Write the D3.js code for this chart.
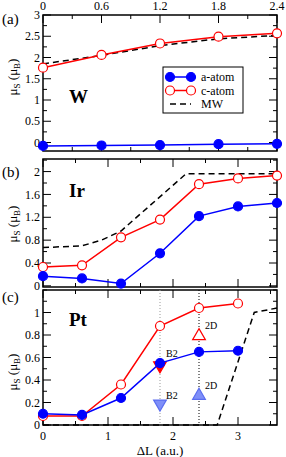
<!DOCTYPE html>
<html>
<head>
<meta charset="utf-8">
<script src="https://cdn.jsdelivr.net/npm/d3@7"></script>
<style>
  body { margin: 0; background: #fff; }
</style>
</head>
<body>
<div id="chart"></div>
<script>
// panel (a) W, top axis
const xA = [0, 0.6, 1.2, 1.8, 2.4];
const wAatom = [-0.08, -0.07, -0.06, -0.04, -0.03];
const wCatom = [1.76, 2.06, 2.33, 2.49, 2.57];
const wMW = [1.85, 2.05, 2.28, 2.44, 2.52];

// panel (b) Ir
const xB = [0, 0.6, 1.2, 1.8, 2.4, 3.0, 3.6];
const irAatom = [0.17, 0.13, 0.04, 0.57, 1.22, 1.39, 1.45];
const irCatom = [0.33, 0.36, 0.85, 1.16, 1.78, 1.88, 1.93];
const irMWx = [0, 0.6, 0.9, 1.2, 2.2, 3.6];
const irMW = [0.67, 0.70, 0.80, 0.96, 1.96, 1.96];

// panel (c) Pt
const xC = [0, 0.6, 1.2, 1.8, 2.4, 3.0];
const ptAatom = [0.10, 0.09, 0.24, 0.55, 0.65, 0.66];
const ptCatom = [0.08, 0.08, 0.36, 0.88, 1.04, 1.08];
const ptMWx = [0, 2.68, 3.25, 3.6];
const ptMW = [0, 0, 1.0, 1.04];
// extra structures (B2, 2D)
const extraX = [1.8, 1.8, 2.4, 2.4];
const extraY = [0.52, 0.18, 0.80, 0.27];
const extraLabel = ["B2", "B2", "2D", "2D"];
const extraKind = ["redDown", "blueDown", "redUp", "blueUp"];
const guideX = [1.8, 2.4];

// ticks
const topTicks = [0, 0.6, 1.2, 1.8, 2.4];
const bottomTicks = [0, 1, 2, 3];
const yTicksA = [0, 0.5, 1, 1.5, 2, 2.5, 3];
const yTicksB = [0, 0.4, 0.8, 1.2, 1.6, 2];
const yTicksC = [0, 0.2, 0.4, 0.6, 0.8, 1];

const width = 286, height = 457;
const left = 43, right = 277;
const blue = "#0000ff", red = "#ff0000";
const serif = "'Liberation Serif', 'Times New Roman', Times, 'DejaVu Serif', serif";

const svg = d3.select("#chart").append("svg")
  .attr("width", width)
  .attr("height", height)
  .attr("font-family", serif);

const xTop = d3.scaleLinear().domain([0, 2.4]).range([left, right]);
const xBot = d3.scaleLinear().domain([0, 3.6]).range([left, right]);

const panels = [
  { top: 15, bottom: 151, domain: [-0.2, 3], yTicks: yTicksA, yMinor: 0.25, x: xTop, xMinor: 0.3, xMajor: topTicks, tag: "(a)", tagY: 24, el: "W", elY: 103, titleY: 77 },
  { top: 159, bottom: 287, domain: [-0.02, 2.22], yTicks: yTicksB, yMinor: 0.2, x: xBot, xMinor: 0.5, xMajor: bottomTicks, tag: "(b)", tagY: 177, el: "Ir", elY: 197, titleY: 224 },
  { top: 290, bottom: 425, domain: [0, 1.2], yTicks: yTicksC, yMinor: 0.1, x: xBot, xMinor: 0.5, xMajor: bottomTicks, tag: "(c)", tagY: 302, el: "Pt", elY: 326, titleY: 372 }
];

panels.forEach(p => {
  p.y = d3.scaleLinear().domain(p.domain).range([p.bottom, p.top]);
});

function drawFrame(p) {
  const g = svg.append("g");
  const y = p.y, x = p.x;
  const xd = x.domain(), yd = y.domain();
  const minorX = d3.range(xd[0], xd[1] + 1e-6, p.xMinor);
  const minorY = d3.range(Math.ceil(yd[0] / p.yMinor) * p.yMinor, yd[1] + 1e-6, p.yMinor);
  const isMajorX = v => p.xMajor.some(t => Math.abs(t - v) < 1e-6);
  const isMajorY = v => p.yTicks.some(t => Math.abs(t - v) < 1e-6);

  // x ticks on top and bottom, pointing inward
  minorX.forEach(v => {
    const len = isMajorX(v) ? 8 : 4;
    const px = x(v);
    g.append("line").attr("x1", px).attr("x2", px).attr("y1", p.top).attr("y2", p.top + len)
      .attr("stroke", "#000").attr("stroke-width", 1);
    g.append("line").attr("x1", px).attr("x2", px).attr("y1", p.bottom).attr("y2", p.bottom - len)
      .attr("stroke", "#000").attr("stroke-width", 1);
  });
  // y ticks left and right
  minorY.forEach(v => {
    const len = isMajorY(v) ? 8 : 4;
    const py = y(v);
    g.append("line").attr("x1", left).attr("x2", left + len).attr("y1", py).attr("y2", py)
      .attr("stroke", "#000").attr("stroke-width", 1);
    g.append("line").attr("x1", right).attr("x2", right - len).attr("y1", py).attr("y2", py)
      .attr("stroke", "#000").attr("stroke-width", 1);
  });
  g.append("rect")
    .attr("x", left).attr("y", p.top)
    .attr("width", right - left).attr("height", p.bottom - p.top)
    .attr("fill", "none").attr("stroke", "#000").attr("stroke-width", 1.5);

  // y tick labels
  g.selectAll(".ylab").data(p.yTicks).join("text")
    .attr("x", left - 3).attr("y", d => y(d))
    .attr("dy", "0.35em")
    .attr("text-anchor", "end")
    .attr("font-size", 12)
    .text(d => d3.format("~g")(d));

  // panel tag and element
  g.append("text").attr("x", 2).attr("y", p.tagY).attr("font-size", 15).text(p.tag);
  g.append("text").attr("x", 69).attr("y", p.elY).attr("font-size", 19).attr("font-weight", "bold").text(p.el);

  // y title  μS (μB)
  const t = g.append("text")
    .attr("transform", `translate(17,${p.titleY}) rotate(-90)`)
    .attr("text-anchor", "middle")
    .attr("font-size", 13);
  t.append("tspan").text("μ");
  t.append("tspan").attr("font-size", 9).attr("dy", 3).text("S");
  t.append("tspan").attr("dy", -3).text(" (μ");
  t.append("tspan").attr("font-size", 9).attr("dy", 3).text("B");
  t.append("tspan").attr("dy", -3).text(")");
}

panels.forEach(drawFrame);

// top axis labels for (a)
svg.append("g").selectAll("text").data(topTicks).join("text")
  .attr("x", d => xTop(d)).attr("y", 10)
  .attr("text-anchor", "middle").attr("font-size", 12)
  .text(d => d3.format("~g")(d));

// bottom axis labels for (c)
svg.append("g").selectAll("text").data(bottomTicks).join("text")
  .attr("x", d => xBot(d)).attr("y", 440)
  .attr("text-anchor", "middle").attr("font-size", 12)
  .text(d => d);
svg.append("text").attr("x", 160).attr("y", 455)
  .attr("text-anchor", "middle").attr("font-size", 13).text("ΔL (a.u.)");

function series(p, xs, ys, color, filled) {
  const line = d3.line().x((d, i) => p.x(xs[i])).y(d => p.y(d));
  svg.append("path").datum(ys).attr("d", line)
    .attr("fill", "none").attr("stroke", color).attr("stroke-width", 1.5);
  svg.append("g").selectAll("circle").data(ys).join("circle")
    .attr("cx", (d, i) => p.x(xs[i])).attr("cy", d => p.y(d))
    .attr("r", 4.5)
    .attr("fill", filled ? color : "#fff")
    .attr("stroke", color).attr("stroke-width", 1.2);
}
function dashed(p, xs, ys) {
  const line = d3.line().x((d, i) => p.x(xs[i])).y(d => p.y(d));
  svg.append("path").datum(ys).attr("d", line)
    .attr("fill", "none").attr("stroke", "#000").attr("stroke-width", 1.5)
    .attr("stroke-dasharray", "6,4");
}

const [pa, pb, pc] = panels;

// (a)
dashed(pa, xA, wMW);
series(pa, xA, wCatom, red, false);
series(pa, xA, wAatom, blue, true);

// (b)
dashed(pb, irMWx, irMW);
series(pb, xB, irCatom, red, false);
series(pb, xB, irAatom, blue, true);

// (c) guides
guideX.forEach((gx, i) => {
  svg.append("line").attr("x1", pc.x(gx)).attr("x2", pc.x(gx))
    .attr("y1", pc.top).attr("y2", pc.bottom)
    .attr("stroke", i === 0 ? "#999" : "#000").attr("stroke-width", 1)
    .attr("stroke-dasharray", "1,2");
});
dashed(pc, ptMWx, ptMW);

// extra triangles
const triUp = d3.symbol().type(d3.symbolTriangle).size(70);
extraX.forEach((ex, i) => {
  const kind = extraKind[i];
  const isRed = kind.startsWith("red");
  const down = kind.endsWith("Down");
  const fill = kind === "redDown" ? red : kind === "redUp" ? "#fff" : "#7f8ff8";
  svg.append("path").attr("d", triUp)
    .attr("transform", `translate(${pc.x(ex)},${pc.y(extraY[i]) + (down ? -1 : 1)}) rotate(${down ? 180 : 0})`)
    .attr("fill", fill)
    .attr("stroke", isRed ? red : "#5a6df0").attr("stroke-width", 1.2);
});
series(pc, xC, ptCatom, red, false);
series(pc, xC, ptAatom, blue, true);
extraX.forEach((ex, i) => {
  svg.append("text").attr("x", pc.x(ex) + 6).attr("y", pc.y(extraY[i]) - 6 + (i === 0 ? -4 : 0))
    .attr("font-size", 10).text(extraLabel[i]);
});

// legend in (a)
const lg = svg.append("g");
lg.append("rect").attr("x", 163).attr("y", 67).attr("width", 80).attr("height", 46)
  .attr("fill", "#fff").attr("stroke", "#000").attr("stroke-width", 1);
const legendItems = [
  { label: "a-atom", color: blue, filled: true, y: 77 },
  { label: "c-atom", color: red, filled: false, y: 90.5 },
  { label: "MW", color: "#000", dash: true, y: 104 }
];
legendItems.forEach(it => {
  lg.append("line").attr("x1", 170).attr("x2", 191).attr("y1", it.y).attr("y2", it.y)
    .attr("stroke", it.color).attr("stroke-width", 1.5)
    .attr("stroke-dasharray", it.dash ? "6,4" : null);
  if (!it.dash) {
    [170, 191].forEach(cx => lg.append("circle").attr("cx", cx).attr("cy", it.y).attr("r", 4.5)
      .attr("fill", it.filled ? it.color : "#fff").attr("stroke", it.color).attr("stroke-width", 1.2));
  }
  lg.append("text").attr("x", 201).attr("y", it.y).attr("dy", "0.35em")
    .attr("font-size", 12).text(it.label);
});
</script>
</body>
</html>
